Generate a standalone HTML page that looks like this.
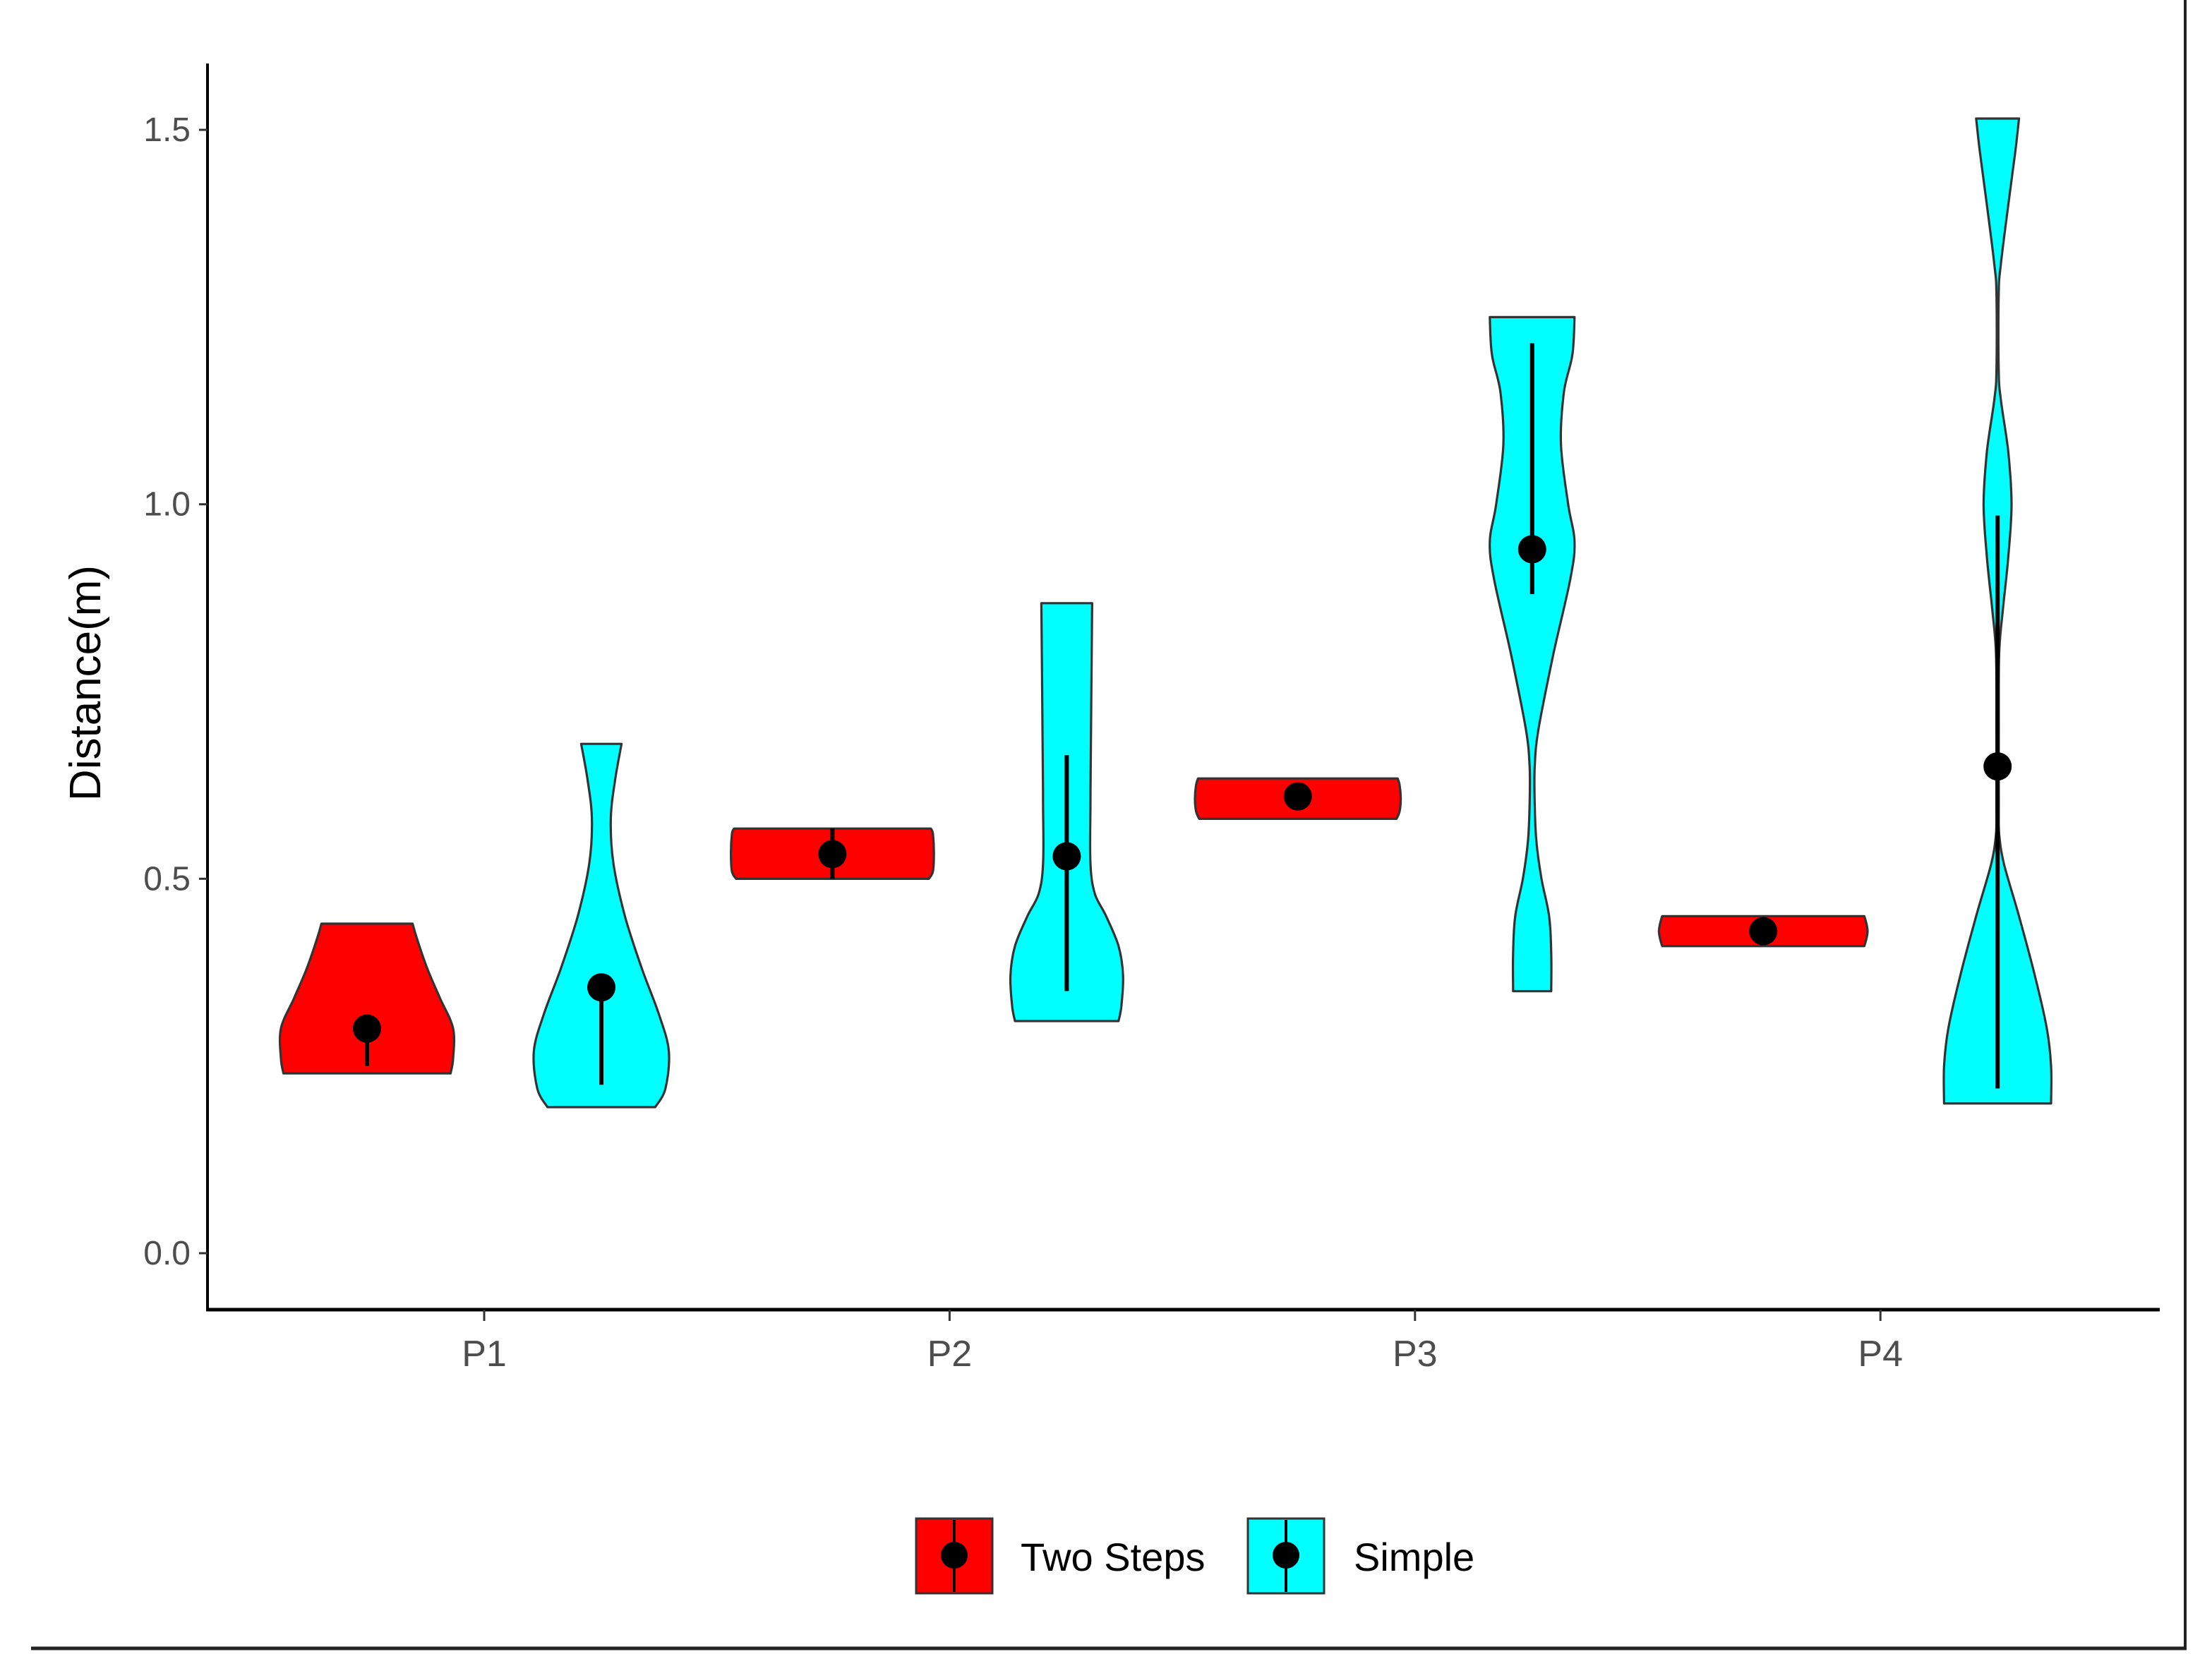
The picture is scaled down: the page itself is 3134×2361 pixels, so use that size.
<!DOCTYPE html>
<html><head><meta charset="utf-8"><style>
html,body{margin:0;padding:0;background:#fff;}
svg{display:block;}
text{font-family:"Liberation Sans",Arial,sans-serif;}
</style></head><body>
<svg id="chart" width="3134" height="2361" viewBox="0 0 1567 1180.5" xmlns="http://www.w3.org/2000/svg">
<rect x="0" y="0" width="1567" height="1180.5" fill="#fff"/>
<line x1="1548" y1="0" x2="1548" y2="1168" stroke="#222" stroke-width="2"/>
<line x1="22" y1="1168" x2="1549" y2="1168" stroke="#222" stroke-width="2.5"/>
<g id="plot"></g>
<g id="axes"></g>
<text transform="translate(71,484) rotate(-90)" text-anchor="middle" font-size="31" fill="#000">Distance(m)</text>
<g>
  <g>
    <rect x="649" y="1076" width="54" height="53" fill="#ff0000" stroke="#333" stroke-width="1.5"/>
    <line x1="676" y1="1077" x2="676" y2="1128" stroke="#000" stroke-width="2"/>
    <circle cx="676" cy="1102" r="9.5" fill="#000"/>
    <text x="723" y="1113" font-size="28" fill="#000">Two Steps</text>
  </g>
  <g>
    <rect x="884" y="1076" width="54" height="53" fill="#00ffff" stroke="#333" stroke-width="1.5"/>
    <line x1="911" y1="1077" x2="911" y2="1128" stroke="#000" stroke-width="2"/>
    <circle cx="911" cy="1102" r="9.5" fill="#000"/>
    <text x="959" y="1113" font-size="28" fill="#000">Simple</text>
  </g>
</g>
</svg>
<script>
const categories = ["P1","P2","P3","P4"];
const groups = ["Two Steps","Simple"];
const groupColors = ["#ff0000","#00ffff"];
const yTicks = [0.0,0.5,1.0,1.5];
const yTickLabels = ["0.0","0.5","1.0","1.5"];
// violin density profiles: [y value, relative half-width]
const p1Two = [[0.24,0.97],[0.26,1],[0.30,1],[0.34,0.85],[0.38,0.7],[0.42,0.58],[0.44,0.53]];
const p1Simple = [[0.195,0.8],[0.22,0.95],[0.27,1],[0.32,0.85],[0.38,0.6],[0.45,0.35],[0.52,0.18],[0.58,0.14],[0.63,0.2],[0.68,0.3]];
const p2Two = [[0.50,0.95],[0.51,0.99],[0.535,1],[0.56,0.99],[0.567,0.97]];
const p2Simple = [[0.31,0.92],[0.33,0.97],[0.37,1],[0.41,0.92],[0.45,0.7],[0.48,0.5],[0.52,0.42],[0.6,0.42],[0.7,0.43],[0.868,0.45]];
const p3Two = [[0.58,0.96],[0.59,0.99],[0.607,1],[0.625,0.99],[0.634,0.97]];
const p3Simple = [[0.35,0.45],[0.4,0.45],[0.45,0.4],[0.5,0.22],[0.55,0.1],[0.6,0.06],[0.65,0.06],[0.7,0.15],[0.8,0.5],[0.9,0.9],[0.95,1],[1.0,0.85],[1.08,0.68],[1.15,0.75],[1.2,0.95],[1.25,1]];
const p4Two = [[0.41,0.97],[0.42,0.99],[0.43,1],[0.44,0.99],[0.45,0.97]];
const p4Simple = [[0.2,1],[0.25,1],[0.3,0.92],[0.37,0.7],[0.45,0.4],[0.52,0.12],[0.56,0.03],[0.6,0.02],[0.7,0.02],[0.8,0.03],[0.86,0.1],[0.93,0.2],[1.0,0.26],[1.07,0.2],[1.14,0.06],[1.18,0.02],[1.28,0.02],[1.32,0.06],[1.4,0.2],[1.47,0.33],[1.515,0.4]];
const violinProfiles = [p1Two,p1Simple,p2Two,p2Simple,p3Two,p3Simple,p4Two,p4Simple];
// max half-width per violin as fraction of category spacing
const violinScale = [0.185,0.145,0.218,0.121,0.221,0.091,0.224,0.115];
const medians = [0.30,0.355,0.533,0.53,0.61,0.94,0.43,0.65];
const rangeLow = [0.25,0.225,0.50,0.35,0.60,0.88,0.42,0.22];
const rangeHigh = [0.31,0.355,0.567,0.665,0.62,1.215,0.44,0.985];

const NS="http://www.w3.org/2000/svg";
const X0=147, X1=1530, Y0=45, YB=928;
const catStart=343, catStep=329.7, dodge=83;
function yScale(v){ return 888 - v*(888-92)/1.5; }
function xCat(i){ return catStart + i*catStep; }
function mk(tag,attrs,parent){ const e=document.createElementNS(NS,tag); for(const k in attrs) e.setAttribute(k,attrs[k]); parent.appendChild(e); return e; }
function f(n){ return n.toFixed(1); }
function smoothSeg(pts){
  // Catmull-Rom through pts, returns bezier commands (without initial M)
  let s='';
  for(let i=0;i<pts.length-1;i++){
    const p0=pts[Math.max(0,i-1)], p1=pts[i], p2=pts[i+1], p3=pts[Math.min(pts.length-1,i+2)];
    const c1=[p1[0]+(p2[0]-p0[0])/6, p1[1]+(p2[1]-p0[1])/6];
    const c2=[p2[0]-(p3[0]-p1[0])/6, p2[1]-(p3[1]-p1[1])/6];
    s+=' C'+f(c1[0])+','+f(c1[1])+' '+f(c2[0])+','+f(c2[1])+' '+f(p2[0])+','+f(p2[1]);
  }
  return s;
}

const plot=document.getElementById('plot');
violinProfiles.forEach((prof,i)=>{
  const cat=Math.floor(i/2), g=i%2;
  const cx=xCat(cat)+(g===0?-dodge:dodge);
  const hw=violinScale[i]*catStep;
  const right=prof.map(p=>[cx+p[1]*hw, yScale(p[0])]);
  const left=prof.slice().reverse().map(p=>[cx-p[1]*hw, yScale(p[0])]);
  const d='M'+f(right[0][0])+','+f(right[0][1])+smoothSeg(right)+' L'+f(left[0][0])+','+f(left[0][1])+smoothSeg(left)+' Z';
  const path=mk('path',{d:d,fill:groupColors[g],stroke:'#333','stroke-width':1.6,'stroke-linejoin':'round'},plot);
  
  
  const ln=mk('line',{x1:cx,x2:cx,y1:yScale(rangeLow[i]),y2:yScale(rangeHigh[i]),stroke:'#000','stroke-width':3},plot);
  
  
  const c=mk('circle',{cx:cx,cy:yScale(medians[i]),r:10,fill:'#000'},plot);
  
  
});

const axes=document.getElementById('axes');
const ya=mk('line',{x1:X0,x2:X0,y1:Y0,y2:YB+1,stroke:'#000','stroke-width':2},axes);


const xa=mk('line',{x1:X0-1,x2:X1,y1:YB,y2:YB,stroke:'#000','stroke-width':2.5},axes);


yTicks.forEach((v,i)=>{
  const y=yScale(v);
  const t=mk('line',{x1:X0-6,x2:X0,y1:y,y2:y,stroke:'#333','stroke-width':1.5},axes);
  
  
  const tx=mk('text',{x:X0-12,y:y+8,'text-anchor':'end','font-size':24,fill:'#4d4d4d'},axes);
  tx.textContent=yTickLabels[i];
  
  
});
categories.forEach((c,i)=>{
  const x=xCat(i);
  const t=mk('line',{x1:x,x2:x,y1:YB,y2:YB+8,stroke:'#333','stroke-width':1.5},axes);
  
  
  const tx=mk('text',{x:x,y:968,'text-anchor':'middle','font-size':26,fill:'#4d4d4d'},axes);
  tx.textContent=c;
  
  
});
</script>
</body></html>
